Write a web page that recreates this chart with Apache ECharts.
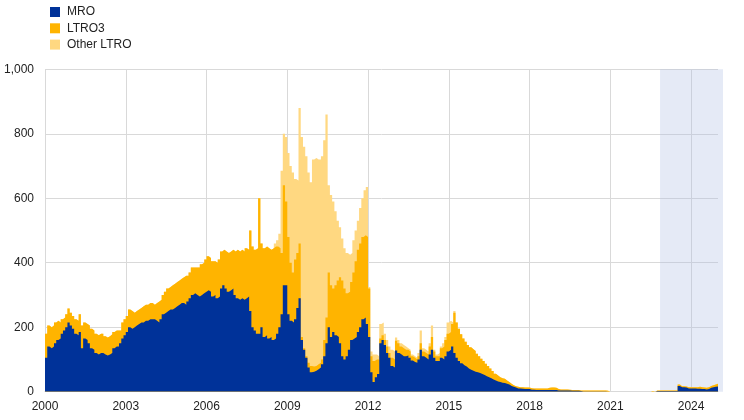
<!DOCTYPE html>
<html>
<head>
<meta charset="utf-8">
<script src="https://cdn.jsdelivr.net/npm/echarts@6/dist/echarts.min.js"></script>
<style>
html,body{margin:0;padding:0;background:#fff;}
#chart{width:744px;height:420px;}
</style>
</head>
<body>
<div id="chart"></div>
<script>
// Monthly values (EUR bn), Jan 2000 .. Jan 2025
const startYear = 2000;
const seriesNames = ['MRO', 'LTRO3', 'Other LTRO'];
const yTicks = [0, 200, 400, 600, 800, 1000];
const shadeFrom = 2022.86;
const shadeTo = 2025.2;

const mro = [
  105,140,135,140,150,160,165,180,190,200,215,205, // 2000
  195,180,175,185,135,165,160,150,135,130,120,115, // 2001
  120,120,115,112,115,120,135,140,140,150,165,175, // 2002
  185,200,195,200,205,210,215,215,220,220,225,225, // 2003
  225,220,215,225,240,245,250,255,255,260,265,270, // 2004
  275,275,270,280,290,300,305,300,295,300,305,310, // 2005
  315,310,295,300,290,295,320,330,320,310,315,320, // 2006
  300,290,285,290,285,290,295,250,200,190,180,180, // 2007
  200,170,175,165,170,160,165,180,200,240,330,330, // 2008
  240,220,215,225,260,290,160,130,105,75,60,62,    // 2009
  65,70,75,85,110,150,200,170,185,175,170,150,     // 2010
  110,100,110,130,160,165,170,185,200,225,230,210, // 2011
  170,60,30,45,55,150,160,145,120,105,80,75,       // 2012
  128,120,115,110,110,112,105,97,92,90,100,130,    // 2013
  110,105,100,115,130,105,95,95,105,100,110,125,   // 2014
  130,140,120,105,95,88,82,78,72,68,65,62,         // 2015
  60,58,55,52,48,45,42,38,35,32,30,28,             // 2016
  27,25,22,18,15,13,10,10,9,8,8,8,                 // 2017
  6,6,5,5,5,5,5,5,5,5,5,5,                         // 2018
  4,4,4,4,4,4,3,3,3,3,2,1,                         // 2019
  1,1,1,1,1,1,1,1,1,1,0,0,                         // 2020
  0,0,0,0,0,0,0,0,0,0,0,0,                         // 2021
  0,0,0,0,0,0,0,0,2,2,2,2,                         // 2022
  2,2,2,2,2,2,18,14,14,13,10,10,                   // 2023
  10,10,9,9,8,8,7,8,12,14,15,16,                   // 2024
  18                                               // 2025
];

const ltro3 = [
  75,65,65,65,65,60,50,45,40,40,43,40,             // 2000
  40,45,45,55,70,50,50,55,60,60,60,60,             // 2001
  60,60,57,56,57,58,50,50,50,40,50,50,             // 2002
  50,55,55,45,45,45,45,50,50,50,50,50,             // 2003
  45,55,65,60,60,65,70,70,75,75,75,75,             // 2004
  75,80,90,80,80,85,80,85,90,95,95,100,            // 2005
  105,105,110,105,110,115,115,110,115,120,120,120, // 2006
  135,150,150,150,150,155,145,250,250,250,265,420, // 2007
  260,275,275,280,270,285,285,270,245,190,310,260, // 2008
  240,180,155,185,170,170,10,5,5,15,20,16,         // 2009
  15,15,15,15,50,80,170,160,135,155,175,205,       // 2010
  235,220,195,180,180,205,235,255,260,255,255,270, // 2011
  150,50,65,55,45,15,15,15,20,15,25,25,            // 2012
  30,30,25,25,20,18,20,13,13,10,10,20,             // 2013
  15,15,15,25,40,20,15,15,30,40,50,55,             // 2014
  55,70,125,110,100,90,83,77,73,70,67,64,          // 2015
  58,52,47,43,39,35,30,26,21,18,15,14,             // 2016
  13,10,8,7,5,4,5,4,5,5,5,5,                       // 2017
  5,4,5,5,5,5,5,5,7,8,8,7,                         // 2018
  4,3,3,3,3,2,2,2,2,2,2,3,                         // 2019
  3,3,3,3,3,3,3,3,3,3,3,0,                         // 2020
  0,0,0,0,0,0,0,0,0,0,0,0,                         // 2021
  0,0,0,0,0,0,2,0,2,2,2,2,                         // 2022
  2,2,2,2,2,2,4,3,3,3,4,4,                         // 2023
  4,4,5,6,6,5,5,6,6,6,7,9,                         // 2024
  10                                               // 2025
];

const otherLtro = [
  0,0,0,0,0,0,0,0,0,0,0,0,                         // 2000
  0,0,0,0,0,0,0,0,0,0,0,0,                         // 2001
  0,0,0,0,0,0,0,0,0,0,0,0,                         // 2002
  0,0,0,0,0,0,0,0,0,0,0,0,                         // 2003
  0,0,0,0,0,0,0,0,0,0,0,0,                         // 2004
  0,0,0,0,0,0,0,0,0,0,0,0,                         // 2005
  0,0,0,0,0,0,0,0,0,0,0,0,                         // 2006
  0,0,0,0,0,0,0,0,0,0,0,0,                         // 2007
  0,0,0,0,0,0,10,20,45,255,160,200,                // 2008
  260,300,310,250,225,420,620,625,620,590,570,642, // 2009
  645,635,630,630,620,630,270,280,270,230,185,155, // 2010
  130,125,125,115,90,100,95,90,110,120,140,155,    // 2011
  5,15,20,15,10,45,40,20,20,20,25,25,              // 2012
  10,10,10,10,10,5,5,5,5,5,10,40,                  // 2013
  10,10,10,10,35,5,5,10,5,10,10,35,                // 2014
  35,5,5,0,0,0,0,0,0,0,0,0,                        // 2015
  0,0,0,0,0,0,0,0,0,0,0,0,                         // 2016
  0,0,0,0,0,0,0,0,0,0,0,0,                         // 2017
  0,0,0,0,0,0,0,0,0,0,0,0,                         // 2018
  0,0,0,0,0,0,0,0,0,0,0,0,                         // 2019
  0,0,0,0,0,0,0,0,0,0,0,0,                         // 2020
  0,0,0,0,0,0,0,0,0,0,0,0,                         // 2021
  0,0,0,0,0,0,0,0,0,0,0,0,                         // 2022
  0,0,0,0,0,0,0,0,0,0,0,0,                         // 2023
  0,0,0,0,0,0,0,0,0,0,0,0,                         // 2024
  0                                                // 2025
];

const colors = ['#003299', '#ffb400', '#ffd881'];
const gridPos = { left: 45, top: 69.3, bottom: 28.3 };
const fontFam = '"Liberation Sans", Arial, sans-serif';

// cumulative stack tops built from the layer values
const layers = [mro, ltro3, otherLtro];
const cumulative = [];
layers.forEach((arr, k) => {
  cumulative.push(arr.map((v, i) => (k ? cumulative[k - 1][i] : 0) + v));
});
const toPairs = arr => arr.map((v, i) => [i / 12, v]);

const chart = echarts.init(document.getElementById('chart'), null, { renderer: 'canvas' });

function areaSeries(k) {
  const color = colors[k];
  return {
    name: seriesNames[k], type: 'line', step: 'end',
    xAxisIndex: 0, yAxisIndex: 0,
    data: toPairs(cumulative[k]), showSymbol: false, symbol: 'none',
    lineStyle: { width: 0, color: color },
    itemStyle: { color: color },
    areaStyle: { color: color, opacity: 1, origin: 'start' },
    emphasis: { disabled: true }, silent: true, animation: false, z: 10 - k
  };
}

chart.setOption({
  animation: false,
  textStyle: { fontFamily: fontFam },
  legend: {
    data: seriesNames,
    orient: 'vertical', left: 45, top: 0,
    icon: 'rect', itemWidth: 10, itemHeight: 10, itemGap: 2.3,
    textStyle: { fontSize: 12, color: '#222', fontFamily: fontFam, lineHeight: 14, padding: [0, 0, 0, 2] },
    selectedMode: false
  },
  grid: [
    Object.assign({ right: 26, outerBoundsMode: 'none', containLabel: false }, gridPos),
    Object.assign({ right: 21, outerBoundsMode: 'none', containLabel: false }, gridPos)
  ],
  xAxis: [
    {
      type: 'value', gridIndex: 0, min: 0, max: 25, interval: 3,
      axisLine: { show: true, lineStyle: { color: '#d9d9d9', width: 1 } },
      axisTick: { show: false },
      axisLabel: {
        formatter: v => String(startYear + v), color: '#222', fontSize: 12,
        margin: 9, fontFamily: fontFam, showMaxLabel: false
      },
      splitLine: { show: true, showMaxLine: false, lineStyle: { color: '#d9d9d9', width: 1 } }
    },
    {
      type: 'value', gridIndex: 1, min: 0, max: shadeTo - startYear, show: false,
      splitLine: { show: false }
    }
  ],
  yAxis: [
    {
      type: 'value', gridIndex: 0, min: yTicks[0], max: yTicks[yTicks.length - 1], interval: 200,
      axisLine: { show: false }, axisTick: { show: false },
      axisLabel: {
        formatter: v => v.toLocaleString('en-US'), color: '#222', fontSize: 12,
        margin: 11, fontFamily: fontFam
      },
      splitLine: { show: true, lineStyle: { color: '#d9d9d9', width: 1 } }
    },
    { type: 'value', gridIndex: 1, min: 0, max: 1000, show: false, splitLine: { show: false } }
  ],
  series: [
    {
      name: 'shade', type: 'line', xAxisIndex: 1, yAxisIndex: 1,
      data: [[shadeFrom - startYear, 0], [shadeTo - startYear, 0]],
      symbol: 'none', lineStyle: { opacity: 0 }, silent: true, z: 1, clip: false,
      markArea: {
        silent: true,
        itemStyle: { color: 'rgba(176,190,228,0.33)' },
        data: [[{ xAxis: shadeFrom - startYear }, { xAxis: shadeTo - startYear }]]
      }
    },
    areaSeries(0),
    areaSeries(1),
    areaSeries(2)
  ]
});
</script>
</body>
</html>
